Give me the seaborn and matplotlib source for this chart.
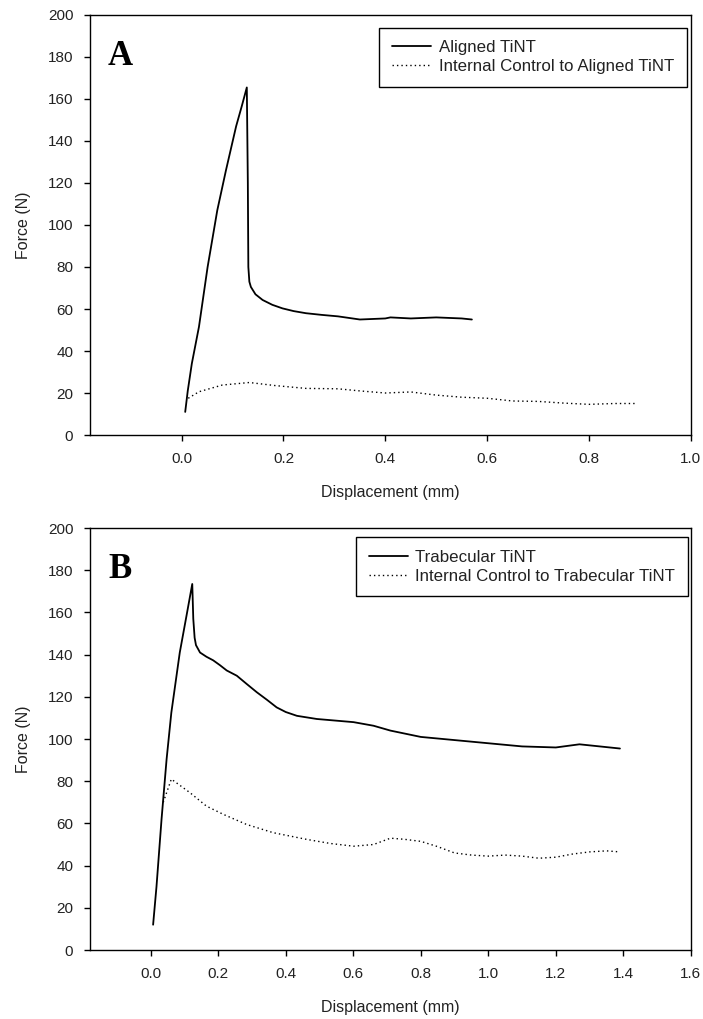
import numpy as np
import pandas as pd
import seaborn as sns
import matplotlib.pyplot as plt

# ---------------- data ----------------
# Panel A: Aligned TiNT
a_x = [0.007, 0.012, 0.020, 0.034, 0.051, 0.070, 0.087, 0.107, 0.118, 0.128, 0.130,
       0.131, 0.133, 0.136, 0.145, 0.159, 0.178, 0.198, 0.220, 0.244, 0.275, 0.307,
       0.35, 0.40, 0.41, 0.45, 0.50, 0.55, 0.57]
a_y = [11.0, 21.0, 34.0, 51.5, 80.0, 107.0, 126.0, 147.0, 156.5, 165.5, 120.0,
       80.0, 73.0, 70.5, 67.0, 64.3, 62.0, 60.3, 59.0, 58.0, 57.2, 56.5,
       55.0, 55.5, 56.0, 55.5, 56.0, 55.5, 55.0]
# Panel A: Internal control to Aligned TiNT
ac_x = [0.013, 0.034, 0.080, 0.133, 0.185, 0.244, 0.307, 0.35, 0.40, 0.45, 0.50,
        0.55, 0.60, 0.65, 0.70, 0.75, 0.80, 0.85, 0.89]
ac_y = [17.5, 20.6, 23.8, 25.0, 23.5, 22.2, 22.0, 21.0, 20.0, 20.5, 19.0,
        18.0, 17.5, 16.2, 16.0, 15.2, 14.6, 15.0, 15.0]

# Panel B: Trabecular TiNT
b_x = [0.007, 0.017, 0.032, 0.047, 0.061, 0.086, 0.106, 0.123, 0.126, 0.130, 0.134,
       0.146, 0.165, 0.185, 0.205, 0.225, 0.255, 0.285, 0.314, 0.345, 0.373, 0.400,
       0.433, 0.492, 0.601, 0.66, 0.71, 0.80, 0.90, 1.00, 1.10, 1.20, 1.27, 1.30, 1.39]
b_y = [12.0, 30.0, 62.0, 90.5, 112.5, 141.0, 158.5, 173.5, 157.0, 148.0, 144.5,
       141.0, 139.0, 137.3, 135.0, 132.5, 130.0, 126.0, 122.2, 118.5, 115.0, 112.8,
       111.0, 109.5, 108.0, 106.3, 104.0, 101.0, 99.5, 98.0, 96.5, 96.0, 97.5, 97.0, 95.5]
# Panel B: Internal control to Trabecular TiNT
bc_x = [0.037, 0.061, 0.116, 0.165, 0.215, 0.284, 0.363, 0.463, 0.532, 0.601, 0.66,
        0.71, 0.75, 0.80, 0.85, 0.90, 0.95, 1.00, 1.05, 1.10, 1.15, 1.20, 1.25,
        1.30, 1.35, 1.39]
bc_y = [70.0, 81.0, 74.6, 68.2, 64.3, 59.5, 55.6, 52.4, 50.5, 49.2, 50.0,
        53.0, 52.5, 51.5, 49.0, 46.0, 45.0, 44.5, 45.0, 44.5, 43.5, 44.0, 45.5,
        46.5, 47.0, 46.5]

y_ticks = [0, 20, 40, 60, 80, 100, 120, 140, 160, 180, 200]
xa_ticks = [0.0, 0.2, 0.4, 0.6, 0.8, 1.0]
xb_ticks = [0.0, 0.2, 0.4, 0.6, 0.8, 1.0, 1.2, 1.4, 1.6]

lab_a = "Aligned TiNT"
lab_ac = "Internal Control to Aligned TiNT"
lab_b = "Trabecular TiNT"
lab_bc = "Internal Control to Trabecular TiNT"

# ---------------- style ----------------
sns.set_theme(style="ticks")
plt.rcParams['font.family'] = ['Liberation Sans', 'DejaVu Sans']
plt.rcParams['axes.edgecolor'] = 'black'
plt.rcParams['axes.linewidth'] = 1.0

fig = plt.figure(figsize=(7.03, 10.19), dpi=100)
axA = fig.add_axes([0.128, 0.5731, 0.8547, 0.4122])
axB = fig.add_axes([0.128, 0.0677, 0.8547, 0.4141])

dot = (0, (1, 2.2))


def draw(ax, x1, y1, l1, x2, y2, l2, xlim, xticks, letter, leg_anchor):
    sns.lineplot(x=x1, y=y1, ax=ax, color='black', lw=1.3, label=l1,
                 sort=False, estimator=None)
    sns.lineplot(x=x2, y=y2, ax=ax, color='black', lw=1.0, label=l2,
                 sort=False, estimator=None, linestyle=dot)
    ax.set_xlim(*xlim)
    ax.set_ylim(0, 200)
    ax.set_xticks(xticks)
    ax.set_xticklabels([f"{t:.1f}" for t in xticks])
    ax.set_yticks(y_ticks)
    ax.tick_params(direction='out', length=4, width=1, color='black',
                   labelsize=11, labelcolor='#222222', pad=8)
    for s in ax.spines.values():
        s.set_visible(True)
        s.set_color('black')
        s.set_linewidth(1.0)
    ax.set_xlabel("Displacement (mm)", fontsize=11.5, color='#222222', labelpad=14)
    ax.set_ylabel("Force (N)", fontsize=11.5, color='#222222', labelpad=12)
    ax.text(0.03, 0.94, letter, transform=ax.transAxes, fontsize=25,
            fontweight='bold', family=['Liberation Serif', 'DejaVu Serif'],
            va='top', ha='left', color='black')
    leg = ax.legend(loc='upper right', bbox_to_anchor=leg_anchor, frameon=True,
                    fancybox=False, framealpha=1, edgecolor='black',
                    fontsize=12.2, handlelength=2.3, borderpad=0.75,
                    labelspacing=0.22, handletextpad=0.45, borderaxespad=0)
    leg.get_frame().set_linewidth(1.0)
    for t in leg.get_texts():
        t.set_color('#222222')
    ax.set_facecolor('white')


draw(axA, a_x, a_y, lab_a, ac_x, ac_y, lab_ac, (-0.18, 1.0), xa_ticks, "A",
     (0.993, 0.97))
draw(axB, b_x, b_y, lab_b, bc_x, bc_y, lab_bc, (-0.18, 1.6), xb_ticks, "B",
     (0.995, 0.978))

fig.savefig("out.png", dpi=100, facecolor='white')
